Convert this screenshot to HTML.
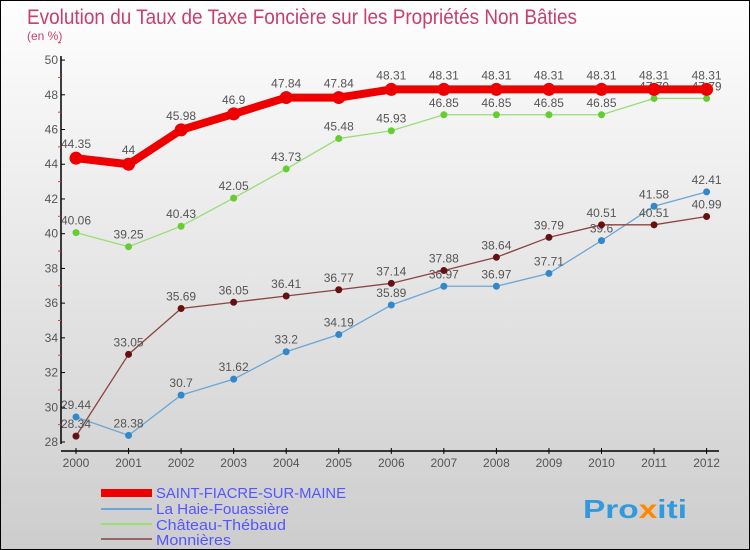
<!DOCTYPE html>
<html><head><meta charset="utf-8"><style>
body{margin:0}
#c{width:748px;height:548px;border:1px solid #000;background:linear-gradient(#fefefe,#cdcdcd);position:relative;font-family:"Liberation Sans",sans-serif;overflow:hidden}
</style></head><body>
<div id="c">
<svg width="748" height="548" id="s">
<text x="26" y="23" font-size="21" fill="#c8406a" textLength="550" lengthAdjust="spacingAndGlyphs">Evolution du Taux de Taxe Foncière sur les Propriétés Non Bâties</text>
<text x="26" y="39" font-size="12" fill="#c8406a">(en %)</text>
<g id="g"></g>
<g>
<rect x="100" y="488" width="51" height="8" fill="#ee0000"/>
<text x="155" y="497" font-size="15" fill="#5555ff" textLength="190" lengthAdjust="spacingAndGlyphs">SAINT-FIACRE-SUR-MAINE</text>
<rect x="100" y="507" width="51" height="2" fill="#6aa6d6"/>
<text x="155" y="513" font-size="15" fill="#5555ff" textLength="133" lengthAdjust="spacingAndGlyphs">La Haie-Fouassière</text>
<rect x="100" y="522" width="51" height="2" fill="#99dd77"/>
<text x="155" y="529" font-size="15" fill="#5555ff" textLength="130" lengthAdjust="spacingAndGlyphs">Château-Thébaud</text>
<rect x="100" y="537" width="51" height="2" fill="#996666"/>
<text x="155" y="544" font-size="15" fill="#5555ff" textLength="75" lengthAdjust="spacingAndGlyphs">Monnières</text>
</g>
<text x="582" y="517" font-size="26" font-weight="bold" fill="#3399dd" textLength="104" lengthAdjust="spacingAndGlyphs">Pro<tspan fill="#ff8800">x</tspan>iti</text>
</svg>
</div>
<script>
const years=[2000,2001,2002,2003,2004,2005,2006,2007,2008,2009,2010,2011,2012];
const saintFiacre=[44.35,44,45.98,46.9,47.84,47.84,48.31,48.31,48.31,48.31,48.31,48.31,48.31];
const laHaie=[29.44,28.38,30.7,31.62,33.2,34.19,35.89,36.97,36.97,37.71,39.6,41.58,42.41];
const chateau=[40.06,39.25,40.43,42.05,43.73,45.48,45.93,46.85,46.85,46.85,46.85,47.79,47.79];
const monnieres=[28.34,33.05,35.69,36.05,36.41,36.77,37.14,37.88,38.64,39.79,40.51,40.51,40.99];
const yTicks=[28,30,32,34,36,38,40,42,44,46,48,50];
const NS='http://www.w3.org/2000/svg';
const g=document.getElementById('g');
const X=i=>75+i*52.55;
const Y=v=>441-(v-28)*17.36;
function el(t,a,p){const e=document.createElementNS(NS,t);for(const k in a)e.setAttribute(k,a[k]);(p||g).appendChild(e);return e;}
let ax=el('line',{x1:60,y1:55,x2:60,y2:443,stroke:'#000','stroke-width':1.5});


let bx=el('line',{x1:60,y1:450,x2:718,y2:450,stroke:'#000','stroke-width':1.5});


yTicks.forEach(v=>{
 el('line',{x1:60,y1:Y(v),x2:64,y2:Y(v),stroke:'#000'});
 el('line',{x1:57,y1:Y(v+1),x2:60,y2:Y(v+1),stroke:'#e33'});
 let t=el('text',{x:57,y:Y(v)+4,'font-size':12,'text-anchor':'end',fill:'#555'});
 t.textContent=v;
 
 
});
years.forEach((y,i)=>{
 el('line',{x1:X(i),y1:447,x2:X(i),y2:453,stroke:'#000'});
 let t=el('text',{x:X(i),y:466,'font-size':12,'text-anchor':'middle',fill:'#555'});
 t.textContent=y;
 
 
});
function series(d,col,dot,w,r,name,off){
 let p=el('polyline',{points:d.map((v,i)=>X(i)+','+Y(v)).join(' '),fill:'none',stroke:col,'stroke-width':w});
 
 
 d.forEach((v,i)=>{
  let c=el('circle',{cx:X(i),cy:Y(v),r:r,fill:dot});
  
  
  let t=el('text',{x:X(i),y:Y(v)-off,'font-size':12,'text-anchor':'middle',fill:'#555'});
  t.textContent=v;
  
  
 });
}
series(laHaie,'#6aa6d6','#3388cc',1.3,3.5,'la-haie',8);
series(chateau,'#99dd77','#66cc33',1.3,3.5,'chateau',8);
series(monnieres,'#8b4444','#661111',1.3,3.5,'monnieres',8);
series(saintFiacre,'#ee0000','#ee0000',8,6.5,'saint-fiacre',10);
</script>
</body></html>
